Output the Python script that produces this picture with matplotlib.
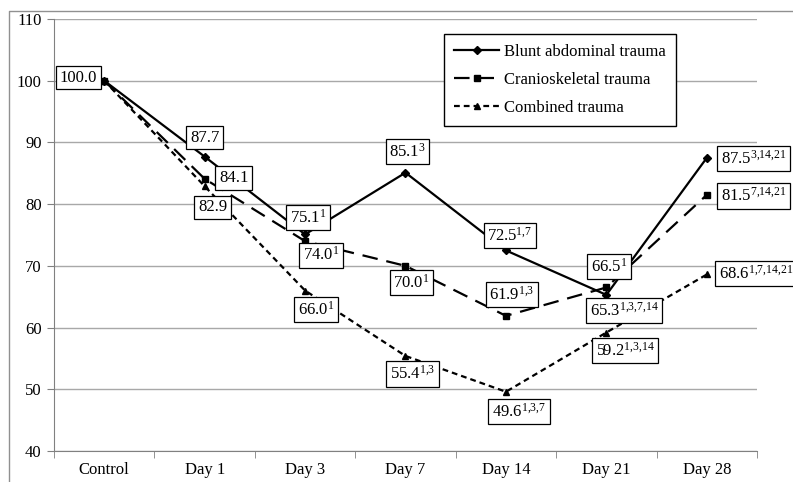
import matplotlib
matplotlib.use("Agg")
import matplotlib.pyplot as plt
from matplotlib.lines import Line2D

plt.rcParams['font.family'] = ['Liberation Serif', 'DejaVu Serif']
plt.rcParams['mathtext.fontset'] = 'custom'
plt.rcParams['mathtext.rm'] = 'Liberation Serif'
plt.rcParams['mathtext.it'] = 'Liberation Serif:italic'

categories = ["Control", "Day 1", "Day 3", "Day 7", "Day 14", "Day 21", "Day 28"]
series_names = ["Blunt abdominal trauma", "Cranioskeletal trauma", "Combined trauma"]
blunt = [100.0, 87.7, 75.1, 85.1, 72.5, 65.3, 87.5]
cranio = [100.0, 84.1, 74.0, 70.0, 61.9, 66.5, 81.5]
combined = [100.0, 82.9, 66.0, 55.4, 49.6, 59.2, 68.6]
# significance superscripts for each point (None = no label shown)
blunt_sup = ["", "", "1", "3", "1,7", "1,3,7,14", "3,14,21"]
cranio_sup = [None, "", "1", "1", "1,3", "1", "7,14,21"]
combined_sup = [None, "", "1", "1,3", "1,3,7", "1,3,14", "1,7,14,21"]

# label offsets in pixels (dx, dy) from the data point
blunt_off = [(-26, 3), (0, 19), (3, 17), (2, 21), (4, 15), (18, -16), (47, -1)]
cranio_off = [None, (29, 1), (16, -14), (6, -17), (6, 21), (3, 21), (47, -1)]
combined_off = [None, (8, -21), (11, -19), (7, -18), (13, -20), (19, -18), (49, 1)]

fig = plt.figure(figsize=(7.93, 4.82), dpi=100)
ax = fig.add_axes([54 / 793, 1 - 451 / 482, 703 / 793, 432 / 482])

x = list(range(len(categories)))
styles = [
    dict(linestyle='-', marker='D', markersize=4.3),
    dict(linestyle=(0, (7, 4)), marker='s', markersize=4.5),
    dict(linestyle=(0, (2.6, 1.8)), marker='^', markersize=4.5),
]
all_vals = [blunt, cranio, combined]
all_sups = [blunt_sup, cranio_sup, combined_sup]
all_offs = [blunt_off, cranio_off, combined_off]

handles = []
for vals, name, st in zip(all_vals, series_names, styles):
    h, = ax.plot(x, vals, color='black', lw=1.6, label=name, zorder=3, **st)
    handles.append(h)

for vals, sups, offs in zip(all_vals, all_sups, all_offs):
    for i, (v, s, o) in enumerate(zip(vals, sups, offs)):
        if s is None:
            continue
        sup = s.replace(",", "{,}")
        txt = f"{v:.1f}" + (f"$^{{{sup}}}$" if s else "")
        ax.annotate(txt, (i, v), xytext=o, textcoords='offset pixels',
                    ha='center', va='center', fontsize=12, zorder=5,
                    bbox=dict(boxstyle='square,pad=0.22', fc='white', ec='black', lw=0.9))

ax.set_xlim(-0.5, 6.5)
ax.set_ylim(40, 110)
ax.set_yticks(range(40, 111, 10))
ax.set_xticks(x)
ax.set_xticklabels(categories)
ax.set_xticks([i - 0.5 for i in range(len(categories) + 1)], minor=True)
ax.tick_params(axis='x', which='major', length=0, pad=8, labelsize=12)
ax.tick_params(axis='x', which='minor', length=5, color='#808080', direction='out')
ax.tick_params(axis='y', length=5, color='#808080', labelsize=12, pad=4)
ax.yaxis.grid(True, color='#a8a8a8', lw=1)
ax.set_axisbelow(True)
for side in ['top', 'right']:
    ax.spines[side].set_visible(False)
for side in ['left', 'bottom']:
    ax.spines[side].set_color('#808080')

leg = ax.legend(handles=handles, loc='upper left',
                bbox_to_anchor=(444 / 793, 1 - 34 / 482), bbox_transform=fig.transFigure,
                fancybox=False, framealpha=1, edgecolor='black', fontsize=12,
                handlelength=2.7, numpoints=1, labelspacing=0.72,
                borderpad=0.6, handletextpad=0.3, borderaxespad=0)
leg.get_frame().set_linewidth(1.0)
leg.set_zorder(6)

# outer chart frame (cut at right and bottom)
fig.add_artist(Line2D([9 / 793, 9 / 793, 1], [0, 1 - 11 / 482, 1 - 11 / 482],
                      transform=fig.transFigure, color='#909090', lw=1))

fig.savefig("out.png", dpi=100)
